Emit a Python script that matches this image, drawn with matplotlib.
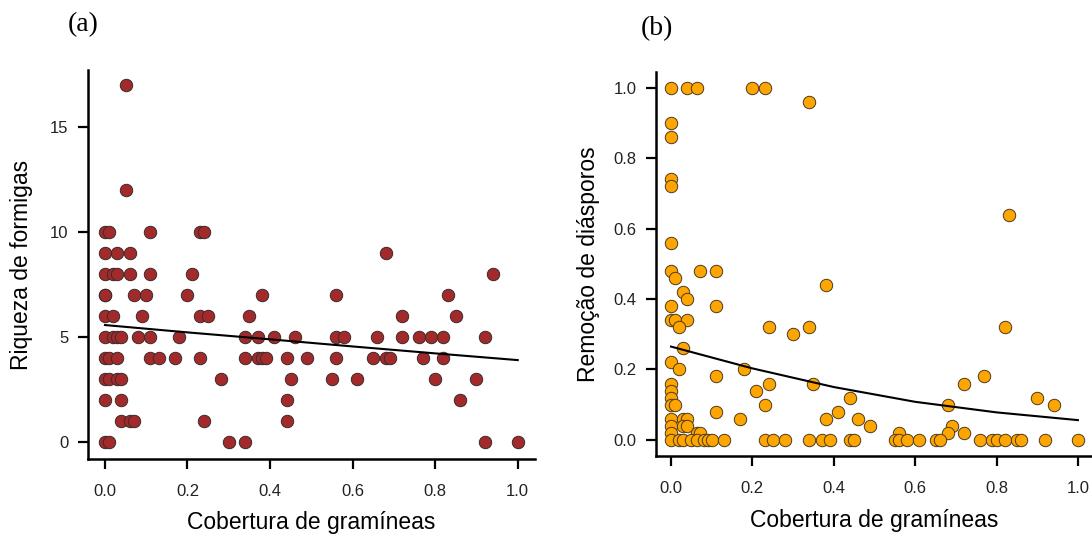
import matplotlib.pyplot as plt
import numpy as np

# ==========================
# DATA
# ==========================

# (a) ant richness vs grass cover
riq_x = [0.05,
         0.05,
         0.0, 0.01, 0.11, 0.23, 0.24,
         0.0, 0.03, 0.06, 0.68,
         0.0, 0.02, 0.03, 0.06, 0.11, 0.21, 0.94,
         0.0, 0.0, 0.07, 0.10, 0.20, 0.38, 0.56, 0.83,
         0.0, 0.02, 0.09, 0.23, 0.25, 0.35, 0.72, 0.85,
         0.0, 0.02, 0.03, 0.04, 0.08, 0.11, 0.18, 0.34, 0.37, 0.41, 0.46, 0.56, 0.58,
         0.66, 0.72, 0.76, 0.79, 0.82, 0.92,
         0.0, 0.01, 0.03, 0.11, 0.13, 0.17, 0.23, 0.34, 0.37, 0.38, 0.39, 0.44, 0.49,
         0.56, 0.65, 0.68, 0.69, 0.77, 0.82,
         0.0, 0.01, 0.03, 0.04, 0.28, 0.45, 0.55, 0.61, 0.80, 0.90,
         0.0, 0.04, 0.44, 0.86,
         0.04, 0.06, 0.07, 0.24, 0.44,
         0.0, 0.01, 0.30, 0.34, 0.92, 1.0]
riq_y = [17,
         12,
         10, 10, 10, 10, 10,
         9, 9, 9, 9,
         8, 8, 8, 8, 8, 8, 8,
         7, 7, 7, 7, 7, 7, 7, 7,
         6, 6, 6, 6, 6, 6, 6, 6,
         5, 5, 5, 5, 5, 5, 5, 5, 5, 5, 5, 5, 5,
         5, 5, 5, 5, 5, 5,
         4, 4, 4, 4, 4, 4, 4, 4, 4, 4, 4, 4, 4,
         4, 4, 4, 4, 4, 4,
         3, 3, 3, 3, 3, 3, 3, 3, 3, 3,
         2, 2, 2, 2,
         1, 1, 1, 1, 1,
         0, 0, 0, 0, 0, 0]

# fitted curve (a)
riq_fit_x = [0.0, 0.2, 0.4, 0.6, 0.8, 1.0]
riq_fit_y = [5.57, 5.22, 4.89, 4.55, 4.22, 3.90]

# (b) diaspore removal vs grass cover
rem_x = [0.0, 0.04, 0.063, 0.20, 0.23,
         0.34,
         0.0, 0.0, 0.0, 0.0, 0.0,
         0.0, 0.01, 0.07, 0.11,
         0.03, 0.04,
         0.0, 0.11,
         0.0, 0.01, 0.04,
         0.02, 0.24, 0.30, 0.34,
         0.38,
         0.03,
         0.0, 0.02,
         0.11, 0.18, 0.24, 0.21, 0.23, 0.35,
         0.0, 0.0, 0.0, 0.0, 0.01,
         0.11, 0.17,
         0.0, 0.03, 0.04, 0.0, 0.03, 0.04,
         0.0, 0.063, 0.07,
         0.38,
         0.83, 0.82, 0.77, 0.72, 0.68, 0.69, 0.68, 0.72,
         0.90, 0.94,
         0.44, 0.41, 0.46, 0.49, 0.56,
         0.0, 0.02, 0.03, 0.05, 0.063, 0.08, 0.09, 0.10, 0.13, 0.23, 0.25, 0.28,
         0.34, 0.37, 0.39, 0.44, 0.45, 0.55, 0.56, 0.58, 0.61, 0.65, 0.66, 0.76,
         0.79, 0.80, 0.82, 0.85, 0.86, 0.92, 1.0]
rem_y = [1.0, 1.0, 1.0, 1.0, 1.0,
         0.96,
         0.90, 0.86, 0.74, 0.72, 0.56,
         0.48, 0.46, 0.48, 0.48,
         0.42, 0.40,
         0.38, 0.38,
         0.34, 0.34, 0.34,
         0.32, 0.32, 0.30, 0.32,
         0.44,
         0.26,
         0.22, 0.20,
         0.18, 0.20, 0.16, 0.14, 0.10, 0.16,
         0.16, 0.14, 0.12, 0.10, 0.10,
         0.08, 0.06,
         0.06, 0.06, 0.06, 0.04, 0.04, 0.04,
         0.02, 0.02, 0.02,
         0.06,
         0.64, 0.32, 0.18, 0.16, 0.10, 0.04, 0.02, 0.02,
         0.12, 0.10,
         0.12, 0.08, 0.06, 0.04, 0.02,
         0.0, 0.0, 0.0, 0.0, 0.0, 0.0, 0.0, 0.0, 0.0, 0.0, 0.0, 0.0,
         0.0, 0.0, 0.0, 0.0, 0.0, 0.0, 0.0, 0.0, 0.0, 0.0, 0.0, 0.0,
         0.0, 0.0, 0.0, 0.0, 0.0, 0.0, 0.0]

# fitted curve (b)
rem_fit_x = [0.0, 0.2, 0.4, 0.6, 0.8, 1.0]
rem_fit_y = [0.265, 0.203, 0.150, 0.108, 0.078, 0.056]

x_ticks = [0.0, 0.2, 0.4, 0.6, 0.8, 1.0]

# ==========================
# FIGURE
# ==========================

plt.rcParams['font.family'] = ['Liberation Sans', 'DejaVu Sans']

fig = plt.figure(figsize=(10.92, 5.37), dpi=100)
ax1 = fig.add_axes([0.0806, 0.1453, 0.409, 0.724])
ax2 = fig.add_axes([0.6007, 0.1508, 0.4002, 0.715])


def style_axis(ax):
    for side in ['top', 'right']:
        ax.spines[side].set_visible(False)
    for side in ['left', 'bottom']:
        ax.spines[side].set_linewidth(1.8)
    ax.tick_params(axis='both', direction='out', length=7, width=1.6,
                   labelsize=12, colors='black', labelcolor='#222222')
    ax.tick_params(axis='x', pad=11)
    ax.tick_params(axis='y', pad=7)


# (a)
ax1.scatter(riq_x, riq_y, s=80, color='#A32A2A', edgecolors='#3a2a2a',
            linewidths=0.7, zorder=2)
ax1.plot(riq_fit_x, riq_fit_y, color='black', lw=1.5, zorder=3)
ax1.set_xlim(-0.041, 1.041)
ax1.set_ylim(-0.81, 17.71)
ax1.set_xticks(x_ticks)
ax1.set_yticks([0, 5, 10, 15])
ax1.set_xlabel('Cobertura de gramíneas', fontsize=16.5, labelpad=9)
ax1.set_ylabel('Riqueza de formigas', fontsize=16.5, labelpad=12)
style_axis(ax1)

# (b)
ax2.scatter(rem_x, rem_y, s=80, color='#FFA500', edgecolors='#4a3a20',
            linewidths=0.7, zorder=2)
ax2.plot(rem_fit_x, rem_fit_y, color='black', lw=1.5, zorder=3)
ax2.set_xlim(-0.037, 1.037)
ax2.set_ylim(-0.046, 1.045)
ax2.set_xticks(x_ticks)
ax2.set_yticks([0.0, 0.2, 0.4, 0.6, 0.8, 1.0])
ax2.set_xlabel('Cobertura de gramíneas', fontsize=16.5, labelpad=9)
ax2.set_ylabel('Remoção de diásporos', fontsize=16.5, labelpad=10)
style_axis(ax2)

# panel letters
fig.text(83 / 1092, 1 - 25 / 537, '(a)', family='Liberation Serif',
         fontsize=20, ha='center', va='center')
fig.text(657 / 1092, 1 - 29 / 537, '(b)', family='Liberation Serif',
         fontsize=20, ha='center', va='center')

plt.savefig('out.png', dpi=100)
